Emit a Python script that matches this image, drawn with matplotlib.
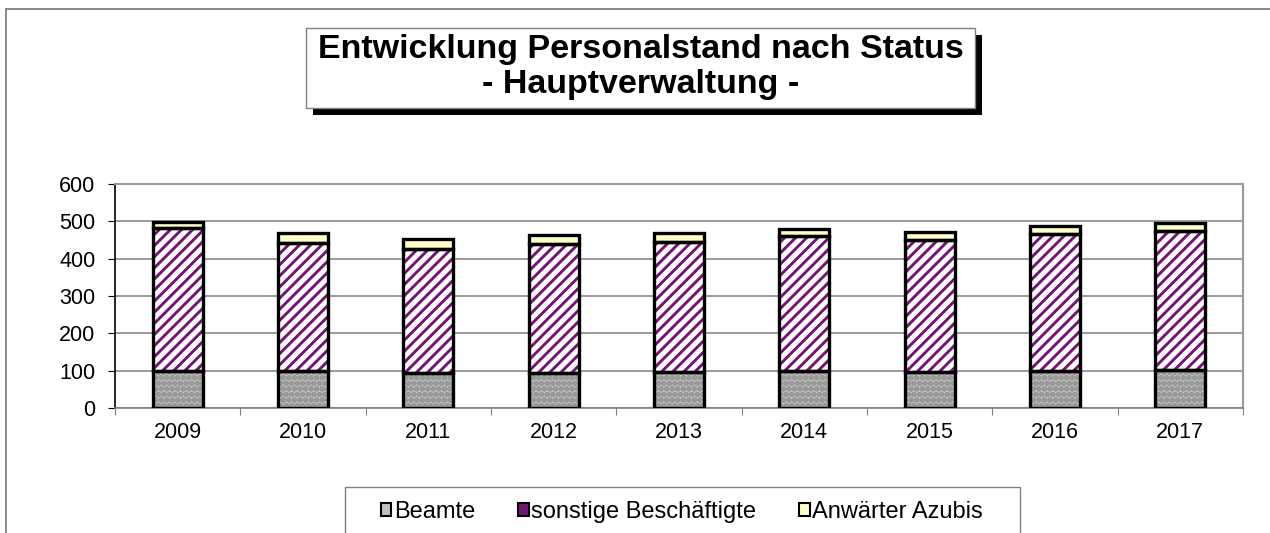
import matplotlib
matplotlib.use("Agg")
import matplotlib.pyplot as plt
import numpy as np
from matplotlib.patches import Rectangle, Patch

years = ["2009", "2010", "2011", "2012", "2013", "2014", "2015", "2016", "2017"]
beamte = [100, 100, 95, 95, 97, 98, 96, 100, 102]
sonstige = [381, 341, 331, 343, 348, 363, 355, 365, 372]
azubis = [16, 28, 26, 25, 24, 18, 20, 22, 21]
labels = ["Beamte", "sonstige Beschäftigte", "Anwärter Azubis"]

plt.rcParams['font.family'] = ['Liberation Sans', 'DejaVu Sans']
plt.rcParams['hatch.linewidth'] = 2.1

W, H = 1270, 533
fig = plt.figure(figsize=(W / 100, H / 100), dpi=100)

# outer chart border
fig.patches.append(Rectangle((6 / W, -0.1), 1.2, 1 - 9 / H + 0.1, transform=fig.transFigure,
                             fill=False, edgecolor='#808080', linewidth=1.3))

ax = fig.add_axes([115 / W, 1 - 408 / H, (1243 - 115) / W, (408 - 184) / H])
x = np.arange(len(years))
w = 0.4
b = np.array(beamte)
s = np.array(sonstige)
a = np.array(azubis)

ax.bar(x, b, w, color='#c0c0c0', hatch='ooo', edgecolor='#999999', linewidth=0, zorder=2)
ax.bar(x, s, w, bottom=b, color='white', hatch='///', edgecolor='#741474', linewidth=0, zorder=2)
ax.bar(x, a, w, bottom=b + s, color='#ffffc8', linewidth=0, zorder=2)
for vals, bot in [(b, 0), (s, b), (a, b + s)]:
    ax.bar(x, vals, w, bottom=bot, fill=False, edgecolor='black', linewidth=2.4, zorder=3)

ax.set_xlim(-0.5, len(years) - 0.5)
ax.set_ylim(0, 600)
ax.set_yticks(range(0, 601, 100))
ax.yaxis.grid(True, color='#808080', linewidth=1.1, zorder=0)
ax.set_axisbelow(True)
ax.set_xticks(x)
ax.set_xticklabels(years)
ax.set_xticks(np.arange(-0.5, len(years)), minor=True)
ax.tick_params(axis='x', which='major', length=0, pad=10, labelsize=15.5)
ax.tick_params(axis='x', which='minor', length=5, width=0.8, color='#808080', direction='out')
ax.tick_params(axis='y', length=5, width=0.8, direction='out', pad=9, labelsize=15.5)
for side in ['top', 'right']:
    ax.spines[side].set_color('#999999')
    ax.spines[side].set_linewidth(1.5)
ax.spines['bottom'].set_color('#808080')
ax.spines['bottom'].set_linewidth(1.2)
ax.spines['left'].set_color('black')
ax.spines['left'].set_linewidth(1.2)

# title box with shadow
fig.patches.append(Rectangle((313 / W, 1 - 115 / H), (975 - 306) / W, (108 - 28) / H,
                             transform=fig.transFigure, facecolor='black', edgecolor='none'))
fig.patches.append(Rectangle((306 / W, 1 - 108 / H), (975 - 306) / W, (108 - 28) / H,
                             transform=fig.transFigure, facecolor='white', edgecolor='#808080',
                             linewidth=1))
fig.text(640.5 / W, 1 - 67 / H, "Entwicklung Personalstand nach Status\n- Hauptverwaltung -",
         ha='center', va='center', fontsize=24.5, fontweight='bold', linespacing=1.15)

# legend box
fig.patches.append(Rectangle((345 / W, -0.1), (1020 - 345) / W, 0.1 + 1 - 487 / H,
                             transform=fig.transFigure, facecolor='white', edgecolor='#808080',
                             linewidth=1))
handles = [Patch(facecolor='#c0c0c0', edgecolor='black', linewidth=1.5),
           Patch(facecolor='#741474', edgecolor='black', linewidth=1.5),
           Patch(facecolor='#ffffc8', edgecolor='black', linewidth=1.5)]
fig.legend(handles, labels, loc='center', bbox_to_anchor=(682 / W, 1 - 512 / H), ncol=3,
           frameon=False, fontsize=17, handlelength=0.45, handleheight=0.45,
           handletextpad=0.12, columnspacing=1.8, borderpad=0)

fig.savefig("out.png", dpi=100)
